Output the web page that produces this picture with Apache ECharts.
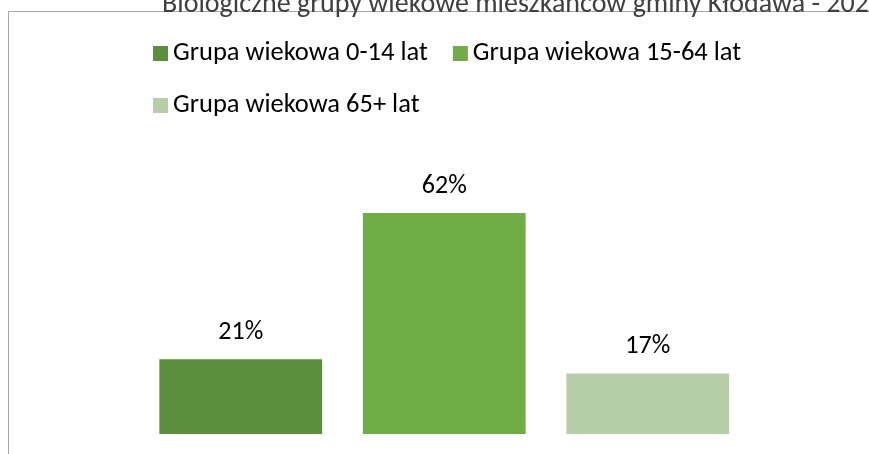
<!DOCTYPE html>
<html>
<head>
<meta charset="utf-8">
<script src="https://cdn.jsdelivr.net/npm/echarts@6/dist/echarts.min.js"></script>
<style>
  html, body { margin: 0; padding: 0; background: #fff; }
  #chart { width: 869px; height: 454px; }
</style>
</head>
<body>
<div id="chart"></div>
<script>
  var title = 'Biologiczne grupy wiekowe mieszkańców gminy Kłodawa - 2023';
  var groups = ['Grupa wiekowa 0-14 lat', 'Grupa wiekowa 15-64 lat', 'Grupa wiekowa 65+ lat'];
  var shares = [21, 62, 17];
  var colors = ['#5c8f3b', '#70ad47', '#b5cea8'];

  var font = 'Carlito, Calibri, Lato, sans-serif';

  // each group is its own series, sitting in its own category slot
  var series = groups.map(function (name, i) {
    return {
      name: name,
      type: 'bar',
      stack: 'all',
      barWidth: '80%',
      itemStyle: { color: colors[i] },
      label: {
        show: true,
        position: 'top',
        distance: 14,
        color: '#000',
        fontFamily: font,
        fontSize: 26,
        formatter: '{c}%'
      },
      data: shares.map(function (v, j) { return j === i ? v : '-'; })
    };
  });

  var myChart = echarts.init(document.getElementById('chart'));
  myChart.setOption({
    animation: false,
    title: {
      text: title,
      left: 162,
      top: -9,
      padding: 0,
      textStyle: { fontFamily: font, fontSize: 28, fontWeight: 'normal', color: '#404040' }
    },
    legend: {
      left: 153,
      top: 40,
      padding: 0,
      width: 620,
      itemWidth: 15,
      itemHeight: 15,
      itemGap: 25,
      icon: 'rect',
      textStyle: { fontFamily: font, fontSize: 26.5, color: '#000', lineHeight: 24 },
      data: groups
    },
    grid: { left: 139, right: 119.5, top: 184.5, bottom: 20 },
    xAxis: {
      type: 'category',
      data: groups,
      show: false
    },
    yAxis: {
      type: 'value',
      min: 0,
      max: 70,
      show: false
    },
    graphic: [{
      type: 'rect',
      shape: { x: 8.5, y: 11.5, width: 1000, height: 1000 },
      style: { fill: 'none', stroke: '#a6a6a6', lineWidth: 1 },
      silent: true
    }],
    series: series
  });
</script>
</body>
</html>
